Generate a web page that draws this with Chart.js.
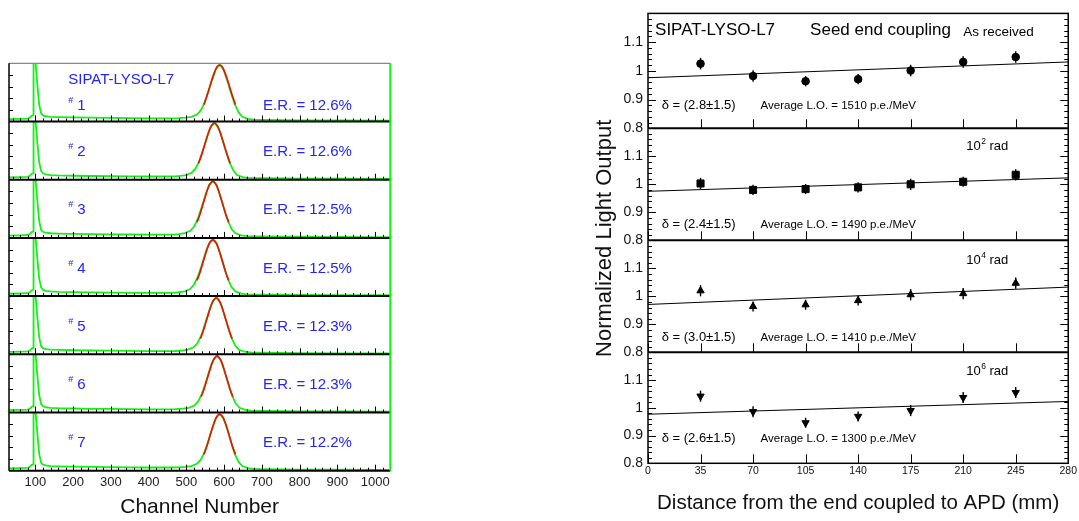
<!DOCTYPE html>
<html><head><meta charset="utf-8">
<script src="https://cdn.jsdelivr.net/npm/chart.js@4.4.1/dist/chart.umd.min.js"></script>
<style>
html,body{margin:0;padding:0;background:#fff;overflow:hidden}
#wrap{position:relative;width:1079px;height:521px;background:#fff}
canvas{position:absolute;top:0}
#cl{left:0;width:540px;height:521px}
#cr{left:540px;width:539px;height:521px}
</style></head><body>
<div id="wrap"><canvas id="cl" width="540" height="521"></canvas><canvas id="cr" width="539" height="521"></canvas></div>
<script>
// ================= LEFT: LYSO spectra =================
const channelTicks = [100,200,300,400,500,600,700,800,900,1000];
const channelTickLabels = ['100','200','300','400','500','600','700','800','900','1000'];
const spectrumNumbers = ['1','2','3','4','5','6','7'];
const energyResolutions = ['12.6%','12.6%','12.5%','12.5%','12.3%','12.3%','12.2%'];

const spec1Ch = [30,60,80,86,90,94,95,100,101,103,106,110,115,120,127,140,160,200,250,300,350,400,450,480,498,513,528,538,548,558,568,578,588,598,608,618,628,638,648,663,678,700,750,800,900,1000,1040];
const spec1Counts = [0.04,0.045,0.05,0.07,0.10,0.11,1.6,1.6,0.95,0.80,0.57,0.29,0.14,0.105,0.09,0.08,0.075,0.07,0.065,0.062,0.058,0.055,0.055,0.058,0.065,0.08,0.12,0.19,0.32,0.51,0.72,0.90,0.98,0.89,0.71,0.49,0.30,0.16,0.08,0.045,0.032,0.028,0.024,0.020,0.017,0.015,0.015];
const spec2Ch = [30,60,80,86,90,94,95,100,101,103,106,110,115,120,127,140,160,200,250,300,350,400,450,470,484,499,514,524,534,544,554,564,574,584,594,604,614,624,634,649,664,700,750,800,900,1000,1040];
const spec2Counts = [0.04,0.045,0.05,0.07,0.10,0.11,1.6,1.6,0.95,0.80,0.57,0.30,0.15,0.11,0.09,0.08,0.074,0.068,0.064,0.06,0.057,0.055,0.055,0.057,0.064,0.08,0.12,0.19,0.32,0.51,0.72,0.90,0.98,0.90,0.72,0.50,0.30,0.16,0.08,0.045,0.032,0.027,0.023,0.020,0.017,0.015,0.015];
const spec3Ch = [30,60,80,86,90,94,95,100,101,103,106,110,115,120,127,140,160,200,250,300,350,400,450,465,480,495,510,520,530,540,550,560,570,580,590,600,610,620,630,645,660,700,750,800,900,1000,1040];
const spec3Counts = [0.04,0.045,0.05,0.07,0.10,0.11,1.6,1.6,0.95,0.80,0.57,0.29,0.14,0.105,0.09,0.08,0.075,0.07,0.065,0.061,0.058,0.056,0.055,0.057,0.065,0.08,0.12,0.19,0.33,0.52,0.73,0.91,0.98,0.90,0.71,0.49,0.29,0.15,0.08,0.044,0.032,0.027,0.023,0.02,0.017,0.015,0.015];
const spec4Ch = [30,60,80,86,90,94,95,100,101,103,106,110,115,120,127,140,160,200,250,300,350,400,450,465,480,495,510,520,530,540,550,560,570,580,590,600,610,620,630,645,660,700,750,800,900,1000,1040];
const spec4Counts = [0.04,0.045,0.05,0.07,0.10,0.11,1.6,1.6,0.95,0.80,0.57,0.30,0.15,0.11,0.09,0.08,0.074,0.069,0.064,0.06,0.057,0.055,0.055,0.057,0.066,0.08,0.12,0.20,0.33,0.52,0.73,0.90,0.97,0.90,0.72,0.49,0.29,0.15,0.08,0.044,0.031,0.027,0.023,0.02,0.017,0.015,0.015];
const spec5Ch = [30,60,80,86,90,94,95,100,101,103,106,110,115,120,127,140,160,200,250,300,350,400,450,470,489,504,519,529,539,549,559,569,579,589,599,609,619,629,639,654,669,700,750,800,900,1000,1040];
const spec5Counts = [0.04,0.045,0.05,0.07,0.10,0.11,1.6,1.6,0.95,0.80,0.57,0.29,0.14,0.105,0.09,0.08,0.075,0.07,0.065,0.062,0.058,0.056,0.055,0.057,0.065,0.08,0.12,0.19,0.32,0.51,0.72,0.90,0.98,0.89,0.71,0.49,0.29,0.15,0.08,0.044,0.031,0.027,0.023,0.02,0.017,0.015,0.015];
const spec6Ch = [30,60,80,86,90,94,95,100,101,103,106,110,115,120,127,140,160,200,250,300,350,400,450,470,491,506,521,531,541,551,561,571,581,591,601,611,621,631,641,656,671,700,750,800,900,1000,1040];
const spec6Counts = [0.04,0.045,0.05,0.07,0.10,0.11,1.6,1.6,0.95,0.80,0.57,0.30,0.15,0.11,0.09,0.08,0.074,0.069,0.064,0.061,0.057,0.055,0.055,0.057,0.065,0.08,0.12,0.19,0.32,0.51,0.72,0.90,0.98,0.90,0.71,0.49,0.29,0.15,0.08,0.044,0.031,0.027,0.023,0.02,0.017,0.015,0.015];
const spec7Ch = [30,60,80,86,90,94,95,100,101,103,106,110,115,120,127,140,160,200,250,300,350,400,450,480,498,513,528,538,548,558,568,578,588,598,608,618,628,638,648,663,678,700,750,800,900,1000,1040];
const spec7Counts = [0.04,0.045,0.05,0.07,0.10,0.11,1.6,1.6,0.95,0.80,0.57,0.29,0.14,0.105,0.09,0.08,0.075,0.07,0.065,0.062,0.058,0.055,0.055,0.058,0.065,0.08,0.12,0.19,0.32,0.51,0.72,0.90,0.98,0.90,0.72,0.49,0.29,0.15,0.08,0.044,0.032,0.028,0.024,0.020,0.017,0.015,0.015];

const fit1Ch = [546,553,560,567,574,581,588,595,602,609,616,623,630];
const fit1Counts = [0.29,0.415,0.56,0.71,0.84,0.94,0.97,0.94,0.84,0.71,0.56,0.415,0.29];
const fit2Ch = [532,539,546,553,560,567,574,581,588,595,602,609,616];
const fit2Counts = [0.28,0.405,0.55,0.70,0.84,0.935,0.97,0.935,0.84,0.70,0.55,0.405,0.28];
const fit3Ch = [528,535,542,549,556,563,570,577,584,591,598,605,612];
const fit3Counts = [0.27,0.39,0.54,0.69,0.835,0.933,0.97,0.933,0.835,0.69,0.54,0.39,0.27];
const fit4Ch = [528,535,542,549,556,563,570,577,584,591,598,605,612];
const fit4Counts = [0.27,0.39,0.54,0.69,0.835,0.933,0.965,0.933,0.835,0.69,0.54,0.39,0.27];
const fit5Ch = [537,544,551,558,565,572,579,586,593,600,607,614,621];
const fit5Counts = [0.27,0.39,0.54,0.69,0.835,0.933,0.97,0.933,0.835,0.69,0.54,0.39,0.27];
const fit6Ch = [539,546,553,560,567,574,581,588,595,602,609,616,623];
const fit6Counts = [0.27,0.39,0.54,0.69,0.835,0.933,0.97,0.933,0.835,0.69,0.54,0.39,0.27];
const fit7Ch = [546,553,560,567,574,581,588,595,602,609,616,623,630];
const fit7Counts = [0.28,0.40,0.55,0.70,0.84,0.935,0.97,0.935,0.84,0.70,0.55,0.40,0.28];

// ================= RIGHT: light response uniformity =================
const distances = [35,70,105,140,175,210,245];
const distanceTicks = [0,35,70,105,140,175,210,245,280];
const loTicks = [0.8,0.9,1.0,1.1];
const loTickLabels = ['0.8','0.9','1','1.1'];
const loAsReceived = [1.025,0.982,0.964,0.971,1.001,1.031,1.048];
const lo1e2 = [1.003,0.980,0.983,0.989,1.000,1.009,1.034];
const lo1e4 = [1.020,0.964,0.970,0.985,1.006,1.010,1.047];
const lo1e6 = [1.042,0.986,0.946,0.969,0.990,1.037,1.055];
const errAsReceived = [0.02,0.02,0.018,0.018,0.02,0.02,0.02];
const err1e2 = [0.02,0.018,0.018,0.018,0.02,0.018,0.02];
const err1e4 = [0.02,0.018,0.018,0.018,0.02,0.02,0.02];
const err1e6 = [0.02,0.02,0.018,0.018,0.02,0.02,0.02];
const fitEnds = [0,280];
const fitAsReceived = [0.976,1.031];
const fit1e2 = [0.975,1.023];
const fit1e4 = [0.971,1.033];
const fit1e6 = [0.977,1.023];
const doseBase = ['As received','10','10','10'];
const doseExp = ['','2','4','6'];
const deltaTexts = ['\u03b4 = (2.8\u00b11.5)','\u03b4 = (2.4\u00b11.5)','\u03b4 = (3.0\u00b11.5)','\u03b4 = (2.6\u00b11.5)'];
const avgLO = ['1510','1490','1410','1300'];

const FONT = '"Liberation Sans", Arial, Helvetica, sans-serif';
Chart.defaults.font.family = FONT;

// ---------- LEFT CHART ----------
const specCh = [spec1Ch,spec2Ch,spec3Ch,spec4Ch,spec5Ch,spec6Ch,spec7Ch];
const specCounts = [spec1Counts,spec2Counts,spec3Counts,spec4Counts,spec5Counts,spec6Counts,spec7Counts];
const fitCh = [fit1Ch,fit2Ch,fit3Ch,fit4Ch,fit5Ch,fit6Ch,fit7Ch];
const fitCounts = [fit1Counts,fit2Counts,fit3Counts,fit4Counts,fit5Counts,fit6Counts,fit7Counts];
const leftIds = spectrumNumbers.map((n,i)=>'s'+i);

const leftDatasets = [];
specCh.forEach((chs,i)=>{
  leftDatasets.push({label:'fit '+spectrumNumbers[i], data: fitCh[i].map((c,j)=>({x:c,y:fitCounts[i][j]})), yAxisID:leftIds[i], xAxisID:'x', showLine:true, borderColor:'#e5170b', borderWidth:1.7, pointRadius:0, cubicInterpolationMode:'monotone', order:0});
  leftDatasets.push({label:'spectrum '+spectrumNumbers[i], data: chs.map((c,j)=>({x:c,y:specCounts[i][j]})), yAxisID:leftIds[i], xAxisID:'x', showLine:true, borderColor:'#14f014', borderWidth:1.8, pointRadius:0, tension:0, order:1});
});

const leftScales = {
  x: {type:'linear', position:'bottom', min:30, max:1040,
      grid:{display:false, drawTicks:false}, border:{display:false},
      afterBuildTicks: s => { s.ticks = channelTicks.map(v=>({value:v})); },
      afterFit: s => { s.height = 50.3; },
      ticks:{autoSkip:false, maxRotation:0, padding:4, color:'#222', font:{size:13}, callback:(v,idx)=>channelTickLabels[idx]},
      title:{display:true, text:'Channel Number', color:'#111', font:{size:21}, padding:{top:0,bottom:1}}}
};
leftIds.forEach((id,i)=>{
  leftScales[id] = {type:'linear', position:'left', stack:'L', stackWeight:1, weight: 10 - i, offset:false,
    min:0, max:1, grid:{display:false, drawTicks:false}, border:{display:false},
    ticks:{display:false}, afterFit: s => { s.width = 9; }};
});

function seg(ctx,x1,y1,x2,y2){ctx.beginPath();ctx.moveTo(x1,y1);ctx.lineTo(x2,y2);ctx.stroke();}

const clipPlugin = {
  id:'panelClip',
  beforeDatasetDraw(chart,args){
    const {xScale,yScale} = args.meta; const ctx = chart.ctx;
    ctx.save(); ctx.beginPath();
    ctx.rect(xScale.left, yScale.top, xScale.right-xScale.left, yScale.bottom-yScale.top); ctx.clip();
  },
  afterDatasetDraw(chart){ chart.ctx.restore(); }
};

const leftDeco = {
  id:'leftDeco',
  afterDraw(chart){
    const ctx = chart.ctx, xs = chart.scales.x, a = chart.chartArea;
    ctx.save();
    ctx.strokeStyle = '#000'; ctx.lineWidth = 1;
    leftIds.forEach((id,i)=>{
      const ys = chart.scales[id];
      for (let v=40; v<=1040; v+=20){
        const x = Math.round(xs.getPixelForValue(v))+0.5;
        seg(ctx,x,ys.bottom,x,ys.bottom-(v%100===0?6:3));
      }
      for (const v of [0.2,0.4,0.6,0.8]){
        const y = Math.round(ys.getPixelForValue(v))+0.5;
        seg(ctx,a.left,y,a.left+4,y);
      }
    });
    ctx.strokeStyle = '#888'; ctx.lineWidth = 1.2; seg(ctx,a.left,a.top,a.right,a.top);
    ctx.strokeStyle = '#000'; ctx.lineWidth = 2;
    leftIds.forEach(id=>{ const ys = chart.scales[id]; seg(ctx,a.left,ys.bottom,a.right,ys.bottom); });
    ctx.lineWidth = 1.5; seg(ctx,a.left,a.top,a.left,a.bottom);
    ctx.strokeStyle = '#14f014'; ctx.lineWidth = 2; seg(ctx,a.right,a.top,a.right,a.bottom);
    ctx.fillStyle = '#2424f4'; ctx.textAlign = 'left'; ctx.textBaseline = 'alphabetic';
    leftIds.forEach((id,i)=>{
      const ys = chart.scales[id];
      const base = ys.top + (i===0 ? 46.7 : 34.7);
      if (i===0){ ctx.font = '15px '+FONT; ctx.fillText('SIPAT-LYSO-L7', xs.getPixelForValue(187), ys.top+20.5); }
      ctx.font = '9px '+FONT; ctx.fillText('#', xs.getPixelForValue(187), base-7);
      ctx.font = '15px '+FONT; ctx.fillText(spectrumNumbers[i], xs.getPixelForValue(211), base);
      ctx.fillText('E.R. = '+energyResolutions[i], xs.getPixelForValue(703), base);
    });
    ctx.restore();
  }
};

new Chart(document.getElementById('cl'), {
  type:'scatter',
  data:{datasets:leftDatasets},
  options:{responsive:false, animation:false, devicePixelRatio:1, events:[],
    layout:{padding:{top:63.3, left:0, right:149.7, bottom:0}},
    plugins:{legend:{display:false}, tooltip:{enabled:false}},
    scales:leftScales},
  plugins:[clipPlugin, leftDeco]
});

// ---------- RIGHT CHART ----------
const loSeries = [loAsReceived, lo1e2, lo1e4, lo1e6];
const errSeries = [errAsReceived, err1e2, err1e4, err1e6];
const fitSeries = [fitAsReceived, fit1e2, fit1e4, fit1e6];
const rightIds = ['r0','r1','r2','r3'];
const markerStyles = ['circle','rect','triangle','triangle'];
const markerRot = [0,0,0,180];
const markerRad = [3.8,5,4.2,4.2];
const panelWeights = [116.6,113.7,113.7,112.6];

const rightDatasets = [];
loSeries.forEach((vals,i)=>{
  rightDatasets.push({label:'fit'+i, data: fitEnds.map((x,j)=>({x:x,y:fitSeries[i][j]})), yAxisID:rightIds[i], showLine:true, borderColor:'#000', borderWidth:1, pointRadius:0});
  rightDatasets.push({label:'LO'+i, data: distances.map((d,j)=>({x:d,y:vals[j]})), errors: errSeries[i], yAxisID:rightIds[i], showLine:false,
    pointStyle:markerStyles[i], rotation:markerRot[i], pointRadius:markerRad[i], backgroundColor:'#000', borderColor:'#000', borderWidth:1});
});

const rightScales = {
  x:{type:'linear', position:'bottom', min:0, max:280,
     grid:{display:false, drawTicks:false}, border:{display:false},
     afterBuildTicks: s => { s.ticks = distanceTicks.map(v=>({value:v})); },
     afterFit: s => { s.height = 57.7; },
     ticks:{autoSkip:false, maxRotation:0, padding:2, color:'#111', font:{size:10.5}, callback:(v,idx)=>String(distanceTicks[idx])},
     title:{display:true, text:'Distance from the end coupled to APD (mm)', color:'#111', font:{size:20.5}, padding:{top:0,bottom:5}}}
};
rightIds.forEach((id,i)=>{
  rightScales[id] = {type:'linear', position:'left', stack:'R', stackWeight:panelWeights[i], weight: 10 - i, offset:false,
    min:0.8, max:1.2, grid:{display:false, drawTicks:false}, border:{display:false},
    afterBuildTicks: s => { s.ticks = loTicks.map(v=>({value:v})); },
    afterFit: s => { s.width = 108; },
    ticks:{padding:5, color:'#111', font:{size:14}, callback:(v,idx)=>loTickLabels[idx]}};
});

const rightDeco = {
  id:'rightDeco',
  afterDatasetsDraw(chart){
    const ctx = chart.ctx, xs = chart.scales.x;
    ctx.save(); ctx.strokeStyle = '#000'; ctx.lineWidth = 1.4;
    chart.data.datasets.forEach(ds=>{
      if (!ds.errors) return;
      const ys = chart.scales[ds.yAxisID];
      ds.data.forEach((p,j)=>{
        const x = xs.getPixelForValue(p.x);
        seg(ctx,x,ys.getPixelForValue(p.y-ds.errors[j]),x,ys.getPixelForValue(p.y+ds.errors[j]));
      });
    });
    ctx.restore();
  },
  afterDraw(chart){
    const ctx = chart.ctx, xs = chart.scales.x, a = chart.chartArea;
    ctx.save();
    ctx.strokeStyle = '#000'; ctx.lineWidth = 1;
    rightIds.forEach((id,i)=>{
      const ys = chart.scales[id];
      for (let k=0;k<=20;k++){
        const v = 0.8 + k*0.02;
        const y = Math.round(ys.getPixelForValue(v))+0.5;
        const len = (k%5===0) ? 8 : 4;
        seg(ctx,a.left,y,a.left+len,y);
        seg(ctx,a.right,y,a.right-len,y);
      }
      for (const d of distanceTicks){
        const x = Math.round(xs.getPixelForValue(d))+0.5;
        seg(ctx,x,ys.bottom,x,ys.bottom-9);
      }
    });
    ctx.lineWidth = 1.5;
    ctx.strokeRect(a.left, a.top, a.right-a.left, a.bottom-a.top);
    ctx.lineWidth = 2;
    rightIds.slice(0,3).forEach(id=>{ const ys = chart.scales[id]; seg(ctx,a.left,ys.bottom,a.right,ys.bottom); });
    ctx.fillStyle = '#000'; ctx.textAlign = 'left'; ctx.textBaseline = 'alphabetic';
    const baseDose = [22.6,21.7,24,22.6];
    const baseDelta = [96,100,100.3,89.3];
    rightIds.forEach((id,i)=>{
      const ys = chart.scales[id];
      if (i===0){
        ctx.font = '17px '+FONT;
        ctx.fillText('SIPAT-LYSO-L7', xs.getPixelForValue(4.7), ys.top+21.6);
        ctx.fillText('Seed end coupling', xs.getPixelForValue(108), ys.top+21.6);
        ctx.font = '13.5px '+FONT;
        ctx.fillText(doseBase[i], xs.getPixelForValue(210), ys.top+baseDose[i]);
      } else {
        let x = xs.getPixelForValue(212);
        const y = ys.top + baseDose[i];
        ctx.font = '13px '+FONT; ctx.fillText(doseBase[i], x, y); x += ctx.measureText(doseBase[i]).width + 0.5;
        ctx.font = '8.5px '+FONT; ctx.fillText(doseExp[i], x, y-6); x += ctx.measureText(doseExp[i]).width;
        ctx.font = '13px '+FONT; ctx.fillText(' rad', x, y);
      }
      ctx.font = '13px '+FONT;
      ctx.fillText(deltaTexts[i], xs.getPixelForValue(9.1), ys.top+baseDelta[i]);
      ctx.font = '11.5px '+FONT;
      ctx.fillText('Average L.O. = '+avgLO[i]+' p.e./MeV', xs.getPixelForValue(75), ys.top+baseDelta[i]);
    });
    ctx.save();
    ctx.translate(64.5, (a.top+a.bottom)/2);
    ctx.rotate(-Math.PI/2);
    ctx.textAlign = 'center'; ctx.textBaseline = 'middle';
    ctx.font = '22px '+FONT; ctx.fillStyle = '#111';
    ctx.fillText('Normalized Light Output', 0, 0);
    ctx.restore();
    ctx.restore();
  }
};

new Chart(document.getElementById('cr'), {
  type:'scatter',
  data:{datasets:rightDatasets},
  options:{responsive:false, animation:false, devicePixelRatio:1, events:[],
    layout:{padding:{top:6.7, left:0, right:10.7, bottom:0}},
    plugins:{legend:{display:false}, tooltip:{enabled:false}},
    scales:rightScales},
  plugins:[clipPlugin, rightDeco]
});
</script></body></html>
